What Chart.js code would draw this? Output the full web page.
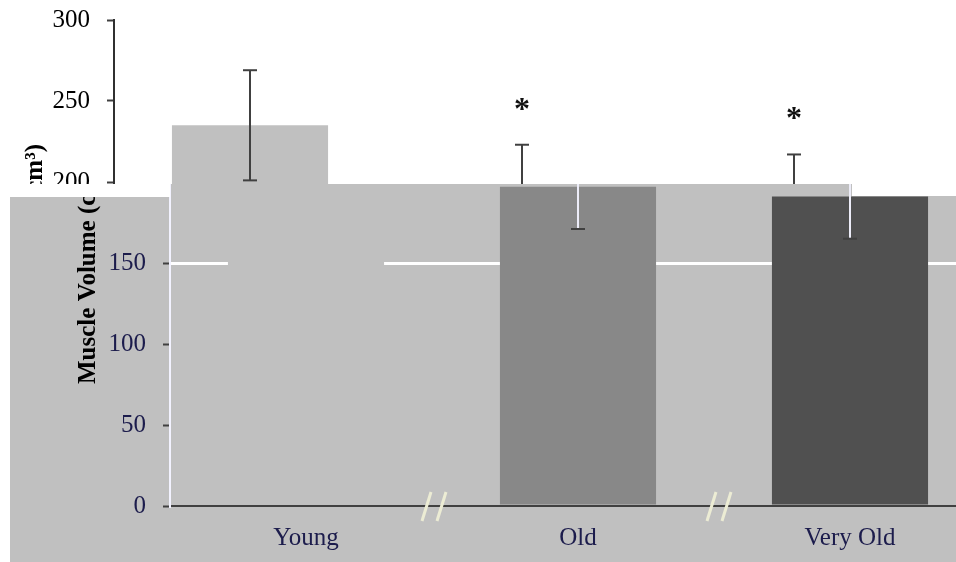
<!DOCTYPE html>
<html><head><meta charset="utf-8">
<script src="https://cdn.jsdelivr.net/npm/chart.js@4/dist/chart.umd.min.js"></script>
<style>
html,body{margin:0;padding:0;background:#fff;width:956px;height:562px;overflow:hidden;}
#top{position:absolute;left:0;top:0;width:956px;height:184px;overflow:hidden;}
#top canvas{position:absolute;left:0;top:0;}
#bottom{position:absolute;left:10px;top:184px;width:946px;height:378px;overflow:hidden;background:#c0c0c0;}
#bottom canvas{position:absolute;left:-10px;top:-184px;}
.patch{position:absolute;background:#fff;}
</style></head><body>
<div id="top"><canvas id="cTop" width="956" height="562"></canvas></div>
<div id="bottom"><canvas id="cBot" width="1000" height="562"></canvas></div>
<div class="patch" style="left:10px;top:184px;width:160px;height:13px"></div>
<div class="patch" style="left:852px;top:184px;width:104px;height:12px"></div>
<script>
// ---- data ----
const categories = ['Young', 'Old', 'Very Old'];
const meanVolume = [235, 197, 191];
const sdVolume = [34, 26, 26];
const significance = ['', '*', '*'];
const yTicks = [0, 50, 100, 150, 200, 250, 300];
const yTitle = 'Muscle Volume (cm\u00B3)';

// ---- style ----
const barColors = ['#c0c0c0', '#888888', '#505050'];
const SERIF = '"Liberation Serif", "Times New Roman", serif';

function line(ctx, x1, y1, x2, y2) { ctx.beginPath(); ctx.moveTo(x1, y1); ctx.lineTo(x2, y2); ctx.stroke(); }

function errorBarPlugin(cfg) {
  return { id: 'errbars', afterDatasetsDraw(chart) {
    const ctx = chart.ctx, meta = chart.getDatasetMeta(0), y = chart.scales.y;
    ctx.save();
    meanVolume.forEach((m, i) => {
      const x = meta.data[i].x;
      const yHi = y.getPixelForValue(m + sdVolume[i]);
      const yLo = y.getPixelForValue(m - sdVolume[i]);
      ctx.lineWidth = 2;
      ctx.strokeStyle = cfg.whisker;
      line(ctx, x, yHi, x, yLo);
      ctx.strokeStyle = '#404040';
      line(ctx, x - 7, yHi, x + 7, yHi);
      line(ctx, x - 7, yLo, x + 7, yLo);
      if (significance[i]) {
        ctx.fillStyle = '#111';
        ctx.font = 'bold 32px ' + SERIF;
        ctx.textAlign = 'center';
        ctx.textBaseline = 'alphabetic';
        ctx.fillText(significance[i], x, yHi - 26);
      }
    });
    ctx.restore();
  } };
}

function yTitlePlugin(cfg) {
  return { id: 'ytitle', afterDraw(chart) {
    const ctx = chart.ctx;
    ctx.save();
    ctx.translate(chart.chartArea.left - cfg.titleOffset, cfg.titleCenterY);
    ctx.rotate(-Math.PI / 2);
    ctx.font = 'bold 25px ' + SERIF;
    ctx.fillStyle = '#000';
    ctx.textAlign = 'center';
    ctx.textBaseline = 'alphabetic';
    ctx.fillText(yTitle, 0, 0);
    ctx.restore();
  } };
}

function breakPlugin(cfg) {
  return { id: 'breaks', afterDraw(chart) {
    if (!cfg.breaks) return;
    const ctx = chart.ctx, meta = chart.getDatasetMeta(0), yb = chart.chartArea.bottom;
    ctx.save();
    ctx.strokeStyle = '#ececd4';
    ctx.lineWidth = 3;
    const shifts = [-8, 5];
    for (let i = 0; i < categories.length - 1; i++) {
      const cx = (meta.data[i].x + meta.data[i + 1].x) / 2 + shifts[i];
      line(ctx, cx - 12, yb + 15, cx - 3, yb - 14);
      line(ctx, cx + 3, yb + 15, cx + 12, yb - 14);
    }
    ctx.restore();
  } };
}

function buildChart(canvas, cfg) {
  return new Chart(canvas, {
    type: 'bar',
    data: { labels: categories, datasets: [{
      data: meanVolume, backgroundColor: barColors, borderWidth: 0,
      barPercentage: 0.574, categoryPercentage: 1
    }] },
    options: {
      responsive: false, animation: false, devicePixelRatio: 1,
      layout: { padding: { top: 20, right: cfg.padRight, bottom: 0, left: 0 } },
      plugins: { legend: { display: false }, tooltip: { enabled: false } },
      scales: {
        x: {
          grid: { display: false, drawTicks: false },
          border: { display: true, color: '#404040', width: 2 },
          ticks: { color: cfg.textColor, font: { family: SERIF, size: 25 }, padding: 17 },
          afterFit: s => { s.height = 56; s.paddingLeft = 0; s.paddingRight = 0; }
        },
        y: {
          min: 0, max: 300,
          afterBuildTicks: s => { s.ticks = yTicks.map(v => ({ value: v })); },
          ticks: { color: cfg.textColor, font: { family: SERIF, size: 25 }, padding: 17 },
          grid: {
            drawOnChartArea: cfg.gridOnArea,
            color: c => (c.tick && c.tick.value === 150) ? '#ffffff' : 'rgba(0,0,0,0)',
            lineWidth: 3, tickLength: 7, tickColor: '#404040', tickWidth: 2
          },
          border: { color: cfg.axisColor, width: 2 },
          afterFit: s => { s.width = cfg.axisWidth; s.paddingTop = 0; s.paddingBottom = 0; }
        }
      }
    },
    plugins: [errorBarPlugin(cfg), yTitlePlugin(cfg), breakPlugin(cfg)]
  });
}

buildChart(document.getElementById('cTop'), {
  padRight: 26, axisWidth: 114, textColor: '#000', gridOnArea: false,
  axisColor: '#303030', whisker: '#404040', titleOffset: 72, titleCenterY: 257, breaks: false
});
buildChart(document.getElementById('cBot'), {
  padRight: 14, axisWidth: 170, textColor: '#1c1c4c', gridOnArea: true,
  axisColor: '#f2f2ff', whisker: '#ececf8', titleOffset: 75, titleCenterY: 271, breaks: true
});
</script>
</body></html>
